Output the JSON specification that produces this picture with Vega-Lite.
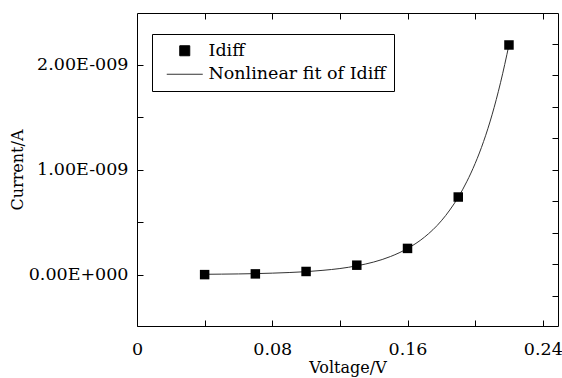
{
  "$schema": "https://vega.github.io/schema/vega-lite/v6.json",
  "width": 421,
  "height": 313,
  "autosize": "none",
  "padding": {"left": 137, "top": 13, "right": 4, "bottom": 52},
  "background": "white",
  "config": {
    "view": {"stroke": "black", "strokeWidth": 1},
    "font": "DejaVu Serif",
    "axis": {
      "domain": false,
      "grid": false,
      "tickColor": "black",
      "tickWidth": 1,
      "tickSize": -6,
      "labelFont": "DejaVu Serif",
      "labelFontSize": 17.5,
      "labelColor": "black",
      "labelFlush": false,
      "labelOverlap": false,
      "titleFont": "DejaVu Serif",
      "titleFontSize": 16,
      "titleFontWeight": "normal",
      "titleColor": "black"
    }
  },
  "datasets": {
    "measured": [
      {"voltage": 0.04, "current": 0.0, "series": "Idiff"},
      {"voltage": 0.07, "current": 0.007e-9, "series": "Idiff"},
      {"voltage": 0.10, "current": 0.03e-9, "series": "Idiff"},
      {"voltage": 0.13, "current": 0.09e-9, "series": "Idiff"},
      {"voltage": 0.16, "current": 0.25e-9, "series": "Idiff"},
      {"voltage": 0.19, "current": 0.74e-9, "series": "Idiff"},
      {"voltage": 0.22, "current": 2.19e-9, "series": "Idiff"}
    ],
    "fit": [
      {"voltage": 0.04, "current": 0.0032e-9, "series": "Nonlinear fit of Idiff"},
      {"voltage": 0.05, "current": 0.0046e-9, "series": "Nonlinear fit of Idiff"},
      {"voltage": 0.06, "current": 0.0066e-9, "series": "Nonlinear fit of Idiff"},
      {"voltage": 0.07, "current": 0.0095e-9, "series": "Nonlinear fit of Idiff"},
      {"voltage": 0.08, "current": 0.014e-9, "series": "Nonlinear fit of Idiff"},
      {"voltage": 0.09, "current": 0.020e-9, "series": "Nonlinear fit of Idiff"},
      {"voltage": 0.10, "current": 0.028e-9, "series": "Nonlinear fit of Idiff"},
      {"voltage": 0.11, "current": 0.041e-9, "series": "Nonlinear fit of Idiff"},
      {"voltage": 0.12, "current": 0.058e-9, "series": "Nonlinear fit of Idiff"},
      {"voltage": 0.13, "current": 0.084e-9, "series": "Nonlinear fit of Idiff"},
      {"voltage": 0.14, "current": 0.120e-9, "series": "Nonlinear fit of Idiff"},
      {"voltage": 0.15, "current": 0.173e-9, "series": "Nonlinear fit of Idiff"},
      {"voltage": 0.16, "current": 0.249e-9, "series": "Nonlinear fit of Idiff"},
      {"voltage": 0.17, "current": 0.357e-9, "series": "Nonlinear fit of Idiff"},
      {"voltage": 0.18, "current": 0.513e-9, "series": "Nonlinear fit of Idiff"},
      {"voltage": 0.185, "current": 0.616e-9, "series": "Nonlinear fit of Idiff"},
      {"voltage": 0.19, "current": 0.738e-9, "series": "Nonlinear fit of Idiff"},
      {"voltage": 0.195, "current": 0.885e-9, "series": "Nonlinear fit of Idiff"},
      {"voltage": 0.20, "current": 1.060e-9, "series": "Nonlinear fit of Idiff"},
      {"voltage": 0.205, "current": 1.270e-9, "series": "Nonlinear fit of Idiff"},
      {"voltage": 0.21, "current": 1.524e-9, "series": "Nonlinear fit of Idiff"},
      {"voltage": 0.215, "current": 1.830e-9, "series": "Nonlinear fit of Idiff"},
      {"voltage": 0.22, "current": 2.190e-9, "series": "Nonlinear fit of Idiff"}
    ]
  },
  "layer": [
    {
      "data": {"name": "fit"},
      "mark": {"type": "line", "interpolate": "monotone", "strokeWidth": 1},
      "encoding": {
        "x": {
          "field": "voltage", "type": "quantitative",
          "scale": {"domain": [0, 0.249], "nice": false, "zero": false},
          "axis": {"orient": "top", "labels": false, "title": null, "values": [0.04, 0.08, 0.12, 0.16, 0.2, 0.24]}
        },
        "y": {
          "field": "current", "type": "quantitative",
          "scale": {"domain": [-0.49e-9, 2.495e-9], "nice": false, "zero": false},
          "axis": {"orient": "right", "labels": false, "title": null, "values": [-2e-10, 1e-10, 4e-10, 7e-10, 1e-9, 1.3e-9, 1.6e-9, 1.9e-9, 2.2e-9]}
        },
        "color": {
          "field": "series", "type": "nominal",
          "scale": {"domain": ["Idiff", "Nonlinear fit of Idiff"], "range": ["black", "#333333"]},
          "legend": {
            "title": null,
            "orient": "none",
            "legendX": 15,
            "legendY": 21,
            "padding": 8,
            "strokeColor": "black",
            "fillColor": "white",
            "labelFont": "DejaVu Serif",
            "labelFontSize": 17.5,
            "labelColor": "black",
            "labelLimit": 400,
            "labelOffset": 31,
            "rowPadding": 4.5,
            "symbolSize": 100,
            "symbolStrokeWidth": 1,
            "encode": {
              "symbols": {
                "update": {
                  "shape": {"signal": "datum.value === 'Idiff' ? 'M2.2,-1H4.2V1H2.2Z' : 'M-0.4,0H6.8'"},
                  "fill": {"signal": "datum.value === 'Idiff' ? 'black' : 'transparent'"},
                  "stroke": {"signal": "datum.value === 'Idiff' ? 'black' : '#333333'"},
                  "strokeWidth": {"value": 1},
                  "opacity": {"value": 1}
                }
              }
            }
          }
        }
      }
    },
    {
      "data": {"name": "measured"},
      "mark": {"type": "point", "shape": "square", "filled": true, "size": 90, "opacity": 1},
      "encoding": {
        "x": {
          "field": "voltage", "type": "quantitative",
          "scale": {"domain": [0, 0.249], "nice": false, "zero": false},
          "axis": {
            "orient": "bottom",
            "title": "Voltage/V",
            "values": [0, 0.04, 0.08, 0.12, 0.16, 0.2, 0.24],
            "labelPadding": 20,
            "titlePadding": 2,
            "labelExpr": "abs(datum.value) < 1e-6 ? '0' : abs(datum.value - 0.08) < 1e-6 ? '0.08' : abs(datum.value - 0.16) < 1e-6 ? '0.16' : abs(datum.value - 0.24) < 1e-6 ? '0.24' : ''"
          }
        },
        "y": {
          "field": "current", "type": "quantitative",
          "scale": {"domain": [-0.49e-9, 2.495e-9], "nice": false, "zero": false},
          "axis": {
            "orient": "left",
            "title": "Current/A",
            "values": [0, 5e-10, 1e-9, 1.5e-9, 2e-9],
            "labelPadding": 15,
            "titlePadding": 3,
            "labelExpr": "abs(datum.value) < 1e-12 ? '0.00E+000' : abs(datum.value - 1e-9) < 1e-12 ? '1.00E-009' : abs(datum.value - 2e-9) < 1e-12 ? '2.00E-009' : ''"
          }
        },
        "color": {"field": "series", "type": "nominal"}
      }
    }
  ],
  "resolve": {"axis": {"x": "independent", "y": "independent"}}
}
